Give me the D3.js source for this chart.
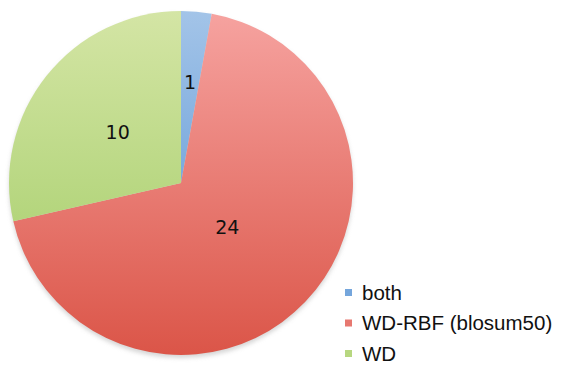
<!DOCTYPE html>
<html>
<head>
<meta charset="utf-8">
<script src="https://cdn.jsdelivr.net/npm/d3@7"></script>
<style>
  body { margin: 0; background: #fff; }
  svg { display: block; }
</style>
</head>
<body>
<svg id="chart" width="561" height="365"></svg>
<script>
// data
const categories = ['both', 'WD-RBF (blosum50)', 'WD'];
const values = [1, 24, 10];
const topColors = ['#a3c4e8', '#f6a3a0', '#d4e5a5'];
const bottomColors = ['#4f8ed2', '#db5548', '#9fcb62'];

const svg = d3.select('#chart');
const cx = 181, cy = 183, r = 172;

const defs = svg.append('defs');

// soft shadow under the pie
const blur = defs.append('filter').attr('id', 'shadow')
  .attr('x', '-10%').attr('y', '-10%').attr('width', '120%').attr('height', '120%');
blur.append('feGaussianBlur').attr('stdDeviation', 2);

// gradients are in the pie group's local coords (centre = 0,0)
categories.forEach((c, i) => {
  const g = defs.append('linearGradient')
    .attr('id', 'grad' + i)
    .attr('gradientUnits', 'userSpaceOnUse')
    .attr('x1', 0).attr('y1', -r)
    .attr('x2', 0).attr('y2', r);
  g.append('stop').attr('offset', '0%').attr('stop-color', topColors[i]);
  g.append('stop').attr('offset', '100%').attr('stop-color', bottomColors[i]);
});

const pie = d3.pie().sort(null).value(d => d);
const arcs = pie(values);
const arc = d3.arc().innerRadius(0).outerRadius(r);

const g = svg.append('g').attr('transform', `translate(${cx},${cy})`);

g.append('circle')
  .attr('cx', 0).attr('cy', 3).attr('r', r)
  .attr('fill', '#bbb')
  .attr('opacity', 0.6)
  .attr('filter', 'url(#shadow)');

g.selectAll('path.slice')
  .data(arcs)
  .enter().append('path')
  .attr('class', 'slice')
  .attr('d', arc)
  .attr('fill', (d, i) => `url(#grad${i})`);

// data labels, radius tuned per slice like the original
const labelR = [101, 64, 81];
g.selectAll('text.lbl')
  .data(arcs)
  .enter().append('text')
  .attr('class', 'lbl')
  .attr('transform', (d, i) => {
    const c = d3.arc().innerRadius(labelR[i]).outerRadius(labelR[i]).centroid(d);
    return `translate(${c[0]},${c[1]})`;
  })
  .attr('text-anchor', 'middle')
  .attr('dy', '0.36em')
  .style('font-family', 'DejaVu Sans, Verdana, sans-serif')
  .style('font-size', '19px')
  .style('fill', '#111')
  .text(d => d.data);

// legend
const legend = svg.append('g').attr('transform', 'translate(345,292.5)');
const rowY = d3.scalePoint().domain(categories).range([0, 61]);
const items = legend.selectAll('g.item')
  .data(categories)
  .enter().append('g')
  .attr('class', 'item')
  .attr('transform', d => `translate(0,${rowY(d)})`);
items.append('rect')
  .attr('x', 0).attr('y', -3.5)
  .attr('width', 7).attr('height', 7)
  .attr('fill', (d, i) => d3.interpolateRgb(topColors[i], bottomColors[i])(0.55));
items.append('text')
  .attr('x', 17).attr('y', 7)
  .style('font-family', 'Liberation Sans, Arial, sans-serif')
  .style('font-size', '20.5px')
  .style('fill', '#111')
  .text(d => d);
</script>
</body>
</html>
